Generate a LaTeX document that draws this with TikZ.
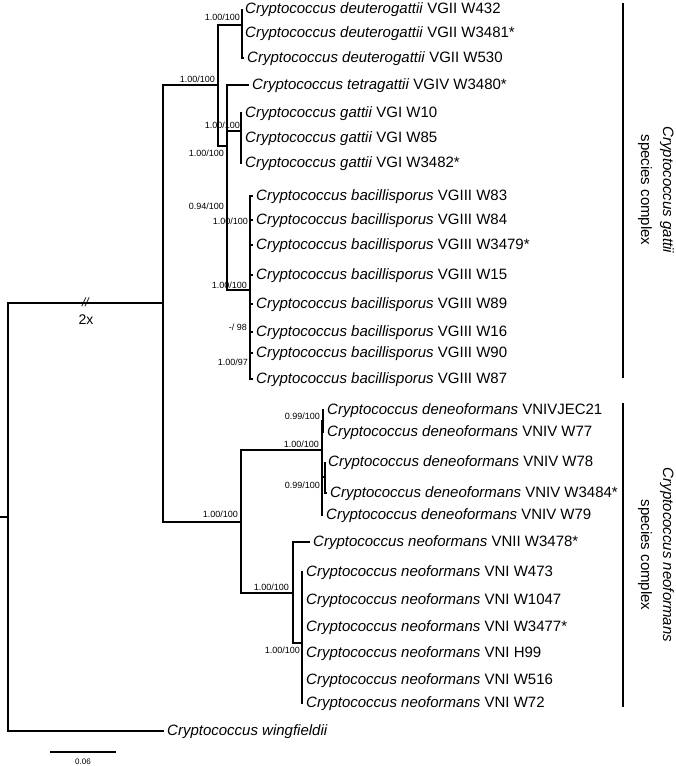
\documentclass[tikz,border=0pt]{standalone}
\usepackage{fontspec}
\setmainfont{Liberation Sans}
\usetikzlibrary{positioning}
\newcommand{\crypto}[1]{\textit{Cryptococcus #1}}
\tikzset{
  branch/.style={line width=1.2pt},
  tip/.style={anchor=west, inner xsep=3pt, inner ysep=0pt, text height=11pt, text depth=3pt, font=\fontsize{15}{18}\selectfont},
  supp/.style={anchor=east, inner sep=0pt, font=\fontsize{9}{10}\selectfont},
  cbar/.style={line width=2.5pt},
  clade/.style={rotate=-90, align=center, font=\fontsize{15}{22}\selectfont}
}

\begin{document}
\begin{tikzpicture}[x=1pt, y=-1pt]
  \useasboundingbox (0,0) rectangle (675,766);

  % Internal nodes
  \coordinate (stub) at (0,517);
  \coordinate (root) at (8,517);
  \coordinate (ing) at (163,303);
  \coordinate (gc) at (218,85);
  \coordinate (deu) at (242,25);
  \coordinate (ga) at (227,146);
  \coordinate (gv) at (241,131);
  \coordinate (bac) at (250,290);
  \coordinate (nc) at (241,522);
  \coordinate (den) at (322,450);
  \coordinate (den1) at (323,421);
  \coordinate (den2) at (325,477);
  \coordinate (neo) at (293,593);
  \coordinate (vni) at (302,643);

  % Tips, gattii complex
  \node[tip] (d1) at (242,9) {\crypto{deuterogattii} VGII W432};
  \node[tip] (d2) at (242,33) {\crypto{deuterogattii} VGII W3481*};
  \node[tip] (d3) at (244,58) {\crypto{deuterogattii} VGII W530};
  \node[tip] (tet) at (249,85) {\crypto{tetragattii} VGIV W3480*};
  \node[tip] (g1) at (242,113) {\crypto{gattii} VGI W10};
  \node[tip] (g2) at (242,138) {\crypto{gattii} VGI W85};
  \node[tip] (g3) at (242,163) {\crypto{gattii} VGI W3482*};
  \node[tip] (b1) at (253,196) {\crypto{bacillisporus} VGIII W83};
  \node[tip] (b2) at (253,220) {\crypto{bacillisporus} VGIII W84};
  \node[tip] (b3) at (253,245) {\crypto{bacillisporus} VGIII W3479*};
  \node[tip] (b4) at (253,275) {\crypto{bacillisporus} VGIII W15};
  \node[tip] (b5) at (253,304) {\crypto{bacillisporus} VGIII W89};
  \node[tip] (b6) at (253,332) {\crypto{bacillisporus} VGIII W16};
  \node[tip] (b7) at (253,353) {\crypto{bacillisporus} VGIII W90};
  \node[tip] (b8) at (253,379) {\crypto{bacillisporus} VGIII W87};

  % Tips, neoformans complex
  \node[tip] (n1) at (324,410) {\crypto{deneoformans} VNIVJEC21};
  \node[tip] (n2) at (324,432) {\crypto{deneoformans} VNIV W77};
  \node[tip] (n3) at (325,462) {\crypto{deneoformans} VNIV W78};
  \node[tip] (n4) at (327,493) {\crypto{deneoformans} VNIV W3484*};
  \node[tip] (n5) at (323,515) {\crypto{deneoformans} VNIV W79};
  \node[tip] (v1) at (310,542) {\crypto{neoformans} VNII W3478*};
  \node[tip] (v2) at (303,572) {\crypto{neoformans} VNI W473};
  \node[tip] (v3) at (303,600) {\crypto{neoformans} VNI W1047};
  \node[tip] (v4) at (303,627) {\crypto{neoformans} VNI W3477*};
  \node[tip] (v5) at (303,653) {\crypto{neoformans} VNI H99};
  \node[tip] (v6) at (303,680) {\crypto{neoformans} VNI W516};
  \node[tip] (v7) at (303,703) {\crypto{neoformans} VNI W72};

  % Outgroup
  \node[tip] (wf) at (164,731) {\crypto{wingfieldii}};

  % Branches
  \draw[branch] (stub) -- (root);
  \draw[branch] (root) |- (ing);
  \draw[branch] (root) |- (wf.west);
  \draw[branch] (ing) |- (gc);
  \draw[branch] (ing) |- (nc);
  \draw[branch] (gc) |- (deu);
  \draw[branch] (gc) |- (ga);
  \draw[branch] (deu) |- (d1.west);
  \draw[branch] (deu) |- (d2.west);
  \draw[branch] (deu) |- (d3.west);
  \draw[branch] (ga) |- (tet.west);
  \draw[branch] (ga) |- (gv);
  \draw[branch] (ga) |- (bac);
  \draw[branch] (gv) |- (g1.west);
  \draw[branch] (gv) |- (g2.west);
  \draw[branch] (gv) |- (g3.west);
  \draw[branch] (bac) |- (b1.west);
  \draw[branch] (bac) |- (b2.west);
  \draw[branch] (bac) |- (b3.west);
  \draw[branch] (bac) |- (b4.west);
  \draw[branch] (bac) |- (b5.west);
  \draw[branch] (bac) |- (b6.west);
  \draw[branch] (bac) |- (b7.west);
  \draw[branch] (bac) |- (b8.west);
  \draw[branch] (nc) |- (den);
  \draw[branch] (nc) |- (neo);
  \draw[branch] (den) |- (den1);
  \draw[branch] (den) |- (den2);
  \draw[branch] (den) |- (n5.west);
  \draw[branch] (den1) |- (n1.west);
  \draw[branch] (den1) |- (n2.west);
  \draw[branch] (den2) |- (n3.west);
  \draw[branch] (den2) |- (n4.west);
  \draw[branch] (neo) |- (v1.west);
  \draw[branch] (neo) |- (vni);
  \draw[branch] (vni) |- (v2.west);
  \draw[branch] (vni) |- (v3.west);
  \draw[branch] (vni) |- (v4.west);
  \draw[branch] (vni) |- (v5.west);
  \draw[branch] (vni) |- (v6.west);
  \draw[branch] (vni) |- (v7.west);

  % Support values
  \node[supp] (sgc) at (215,79) {1.00/100};
  \node[supp] (sdeu) at (240,17) {1.00/100};
  \node[supp] (sgv) at (240,125) {1.00/100};
  \node[supp] (sga) at (224,153) {1.00/100};
  \node[supp] (sgb) at (224,206) {0.94/100};
  \node[supp] (sb1) at (248,221) {1.00/100};
  \node[supp] (sbac) at (247,285) {1.00/100};
  \node[supp] (sb2) at (247,327) {-/ 98};
  \node[supp] (sb3) at (248,362) {1.00/97};
  \node[supp] (snc) at (238,514) {1.00/100};
  \node[supp] (sden) at (319,444) {1.00/100};
  \node[supp] (sd1) at (320,416) {0.99/100};
  \node[supp] (sd2) at (320,485) {0.99/100};
  \node[supp] (sneo) at (289,587) {1.00/100};
  \node[supp] (svni) at (300,650) {1.00/100};

  % Long branch break
  \node[font=\fontsize{12}{12}\selectfont] (brk) at (86,302) {\textit{//}};
  \node[font=\fontsize{14}{14}\selectfont] (twox) at (86,320) {2x};

  % Scale bar
  \coordinate (sbl) at (50,752);
  \coordinate (sbr) at (116,752);
  \draw[branch] (sbl) -- (sbr);
  \node[font=\fontsize{8}{8}\selectfont] (sblab) at (83,762) {0.06};

  % Species complexes
  \coordinate (gtop) at (623,3);
  \coordinate (gbot) at (623,378);
  \coordinate (ntop) at (623,403);
  \coordinate (nbot) at (623,707);
  \draw[cbar] (gtop) -- (gbot);
  \draw[cbar] (ntop) -- (nbot);
  \node[clade] (gatlab) at (656,190) {\textit{Cryptococcus gattii}\\species complex};
  \node[clade] (neolab) at (656,555) {\textit{Cryptococcus neoformans}\\species complex};
\end{tikzpicture}
\end{document}
